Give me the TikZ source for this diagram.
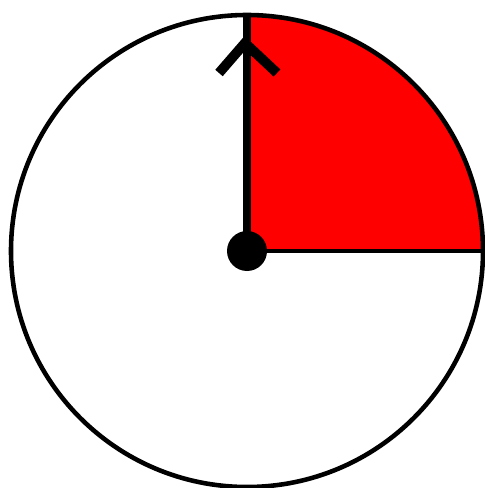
\documentclass[tikz,border=0pt]{standalone}
\begin{document}
\begin{tikzpicture}[scale=2]
        \useasboundingbox (-1.235,-1.185) rectangle (1.185,1.255);
        \coordinate (o) at (0,0);
        \fill[red] (o) -- (1.18,0) arc(0:90:1.18) -- cycle;
        \draw[line width=1pt] (o) -- (1.18,0);
        \draw[line width=1.3pt] (o) circle(1.18);
        \draw[line width=2.2pt] (o) -- (0,1.18);
        \draw[line width=2.8pt] (-.14,.89) -- (-.01,1.04) -- (.15,.89);
        \fill (o) circle(.1);
    \end{tikzpicture}
\end{document}
